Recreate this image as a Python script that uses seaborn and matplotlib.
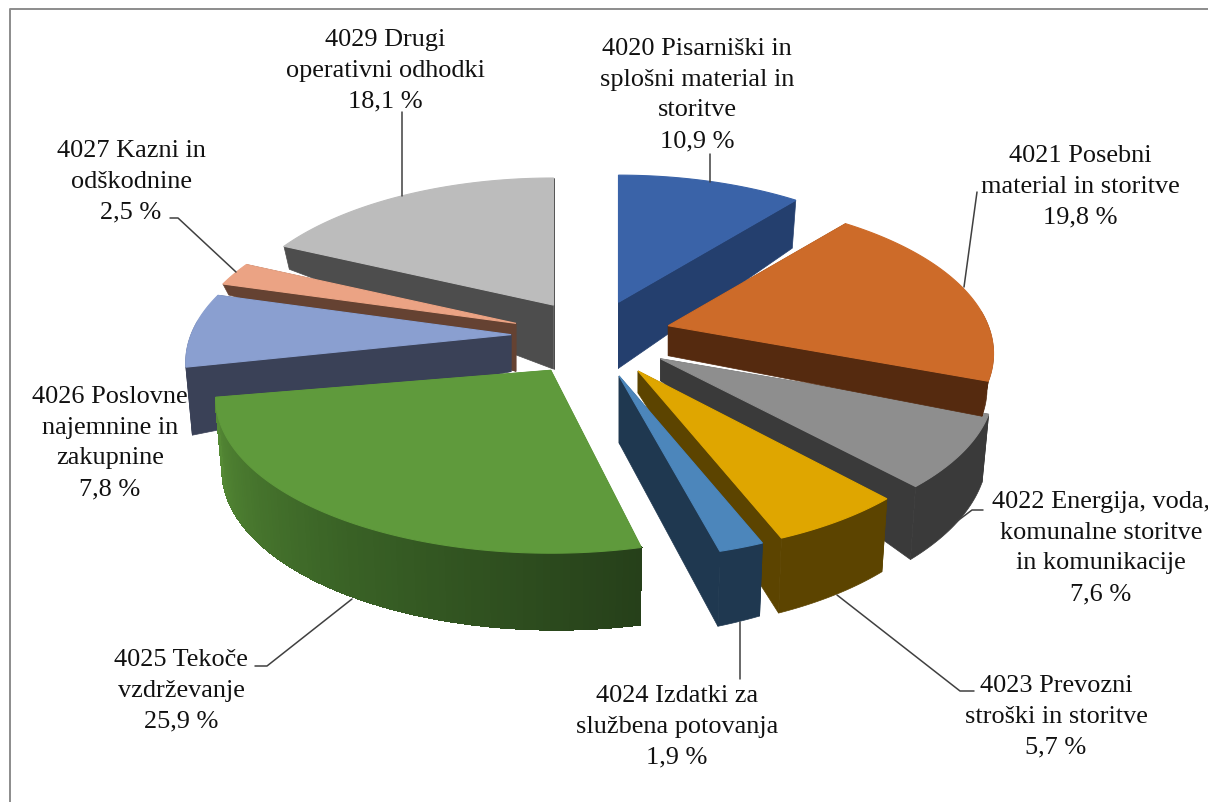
import numpy as np
import seaborn as sns
import matplotlib.pyplot as plt

# values (percent of total)
codes = ["4020", "4021", "4022", "4023", "4024", "4025", "4026", "4027", "4029"]
names = [
    " Pisarniški in\nsplošni material in\nstoritve",
    " Posebni\nmaterial in storitve",
    " Energija, voda,\nkomunalne storitve\nin komunikacije",
    " Prevozni\nstroški in storitve",
    " Izdatki za\nslužbena potovanja",
    " Tekoče\nvzdrževanje",
    " Poslovne\nnajemnine in\nzakupnine",
    " Kazni in\nodškodnine",
    " Drugi\noperativni odhodki",
]
values = [10.9, 19.8, 7.6, 5.7, 1.9, 25.9, 7.8, 2.5, 18.1]

top_colors = ["#3a63a8", "#cd6b29", "#8e8e8e", "#dfa600", "#4c86bb",
              "#5f9a3c", "#8a9fd0", "#eba384", "#bcbcbc"]
wall_colors = ["#243f6e", "#552a0f", "#3a3a3a", "#5c4400", "#1f3850",
               "#558a35", "#3a4157", "#654232", "#4d4d4d"]

# wall depth in pixels: at the tip, at the rim start, at the rim end
wall_depth = [(66, 30, 48), (30, 35, 35), (22, 68, 73), (22, 73, 75), (67, 73, 75),
              (65, 77, 72), (37, 68, 70), (48, 11, 11), (64, 23, 20)]

# small per slice corrections of the drawing: pixels, pixels, width factor, degrees
nudge = [(2, 3, 1, 0), (2, 0, 1, 0), (5, 1, 1.025, 0), (6, 2, 1, 0), (4, 3, 1, 0),
         (2, 1, 1.03, 2), (0, 0, 1, 0), (0, 1, 1, 0), (6, 2, 1, 0)]

# where each label sits and its leader line
label_pos = [(697, 95), (1080, 187), (1101, 548), (1056, 717), (677, 727),
             (181, 691), (110, 443), (131, 182), (385, 71)]
leaders = [
    ([710, 710], [155, 183]),
    ([977, 964], [193, 288]),
    ([983, 972, 956], [511, 511, 523]),
    ([974, 960, 837], [692, 692, 596]),
    ([740, 740], [623, 680]),
    ([255, 267, 352], [667, 667, 600]),
    None,
    ([170, 178, 236], [219, 219, 273]),
    ([402, 402], [113, 197]),
]

# pie geometry
cx0, cy0 = 590, 337
ex, ey = 79, 39
rx, ry, persp = 320, 150, 0.18
draw_order = [8, 7, 6, 5, 0, 2, 1, 3, 4]

sns.set_theme(style="white")
plt.rcParams["font.family"] = ["Liberation Serif", "DejaVu Serif"]

fig, ax = plt.subplots(figsize=(12.08, 8.03), dpi=100)
ax.set_position([0, 0, 1, 1])
ax.set_xlim(0, 1208)
ax.set_ylim(803, 0)
ax.axis("off")

ax.plot([10, 10, 1208], [803, 10, 10], color="#8c8c8c", lw=1.4, clip_on=False)

total = sum(values)
edges = np.concatenate([[0], np.cumsum(values)]) / total * 2 * np.pi


def project(theta, rho, center, xscale):
    x = rho * np.sin(theta)
    y = rho * np.cos(theta)
    w = 1 + persp * y
    return center[0] + xscale * rx * x / w, center[1] - ry * y / w


for i in draw_order:
    dx, dy, xscale, turn = nudge[i]
    t0, t1 = edges[i], edges[i + 1]
    mid = (t0 + t1) / 2
    c = (cx0 + ex * np.sin(mid) + dx, cy0 - ey * np.cos(mid) + dy)
    tip, d0, d1 = wall_depth[i]
    n = max(int((t1 - t0) * 60), 4)
    thetas = np.linspace(t0, t1, n + 1) + np.radians(turn)
    depths = np.linspace(d0, d1, n + 1)
    rim_x, rim_y = project(thetas, 1.0, c, xscale)
    # wall bottoms lean slightly towards the pie middle
    low_x = c[0] + (rim_x - c[0]) * 0.98
    low_y = rim_y + depths

    # radial walls
    for k in (0, -1):
        ax.fill([c[0], rim_x[k], low_x[k], c[0]], [c[1], rim_y[k], low_y[k], c[1] + tip],
                color=wall_colors[i], lw=0.5)

    # curved wall, only the part facing the viewer
    front = np.cos(thetas) < 0.1
    if front.sum() > 1:
        if i == 5:
            # green one carries a gradient, so it goes in strips
            strip = sns.blend_palette(["#26401a", "#3a6326", "#558a35"], n)
            for j in range(n):
                ax.fill([rim_x[j], rim_x[j + 1], low_x[j + 1], low_x[j]],
                        [rim_y[j], rim_y[j + 1], low_y[j + 1], low_y[j]],
                        color=strip[j], lw=1.0, antialiased=False)
        else:
            ax.fill(np.r_[rim_x[front], low_x[front][::-1]],
                    np.r_[rim_y[front], low_y[front][::-1]],
                    color=wall_colors[i], lw=0.5)

    # top face
    ax.fill(np.r_[c[0], rim_x], np.r_[c[1], rim_y], color=top_colors[i], lw=0.8)

for line in leaders:
    if line is not None:
        ax.plot(line[0], line[1], color="#404040", lw=1.1)

for code, name, val, pos in zip(codes, names, values, label_pos):
    pct = f"{val:.1f}".replace(".", ",") + " %"
    ax.text(pos[0], pos[1], code + name + "\n" + pct, ha="center", va="center",
            fontsize=18.9, color="#111111", linespacing=1.52)

plt.savefig("out.png", dpi=100)
